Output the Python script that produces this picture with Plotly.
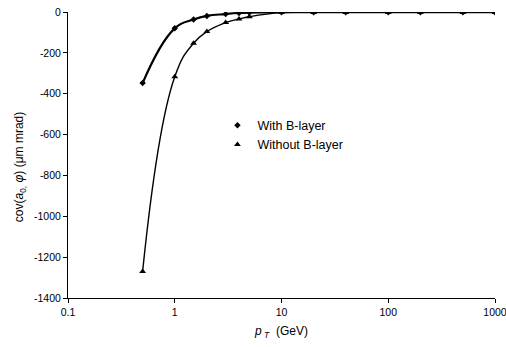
import plotly.graph_objects as go

pt = [0.5, 1, 1.5, 2, 3, 4, 5, 10, 20, 40, 100, 200, 500, 1000]
with_b = [-348, -80, -37, -19, -10, -5, -3, -1, -1, -1, -1, -1, -1, -1]
without_b = [-1270, -317, -153, -96, -52, -34, -23, -3, -2, -2, -2, -2, -2, -2]

xtick_vals = [0.1, 1, 10, 100, 1000]
xtick_text = ["0.1", "1", "10", "100", "1000"]
ytick_vals = [0, -200, -400, -600, -800, -1000, -1200, -1400]
ytick_text = ["0", "-200", "-400", "-600", "-800", "-1000", "-1200", "-1400"]

fig = go.Figure()
fig.add_trace(go.Scatter(x=pt, y=with_b, mode="lines+markers", showlegend=False,
                         line=dict(color="black", width=2.2, shape="spline", smoothing=1.3),
                         marker=dict(symbol="diamond", size=5, color="black")))
fig.add_trace(go.Scatter(x=pt, y=without_b, mode="lines+markers", showlegend=False,
                         line=dict(color="black", width=1.4, shape="spline", smoothing=1.3),
                         marker=dict(symbol="triangle-up", size=6, color="black")))
fig.add_trace(go.Scatter(x=[None], y=[None], mode="markers", name="With B-layer",
                         marker=dict(symbol="diamond", size=5, color="black")))
fig.add_trace(go.Scatter(x=[None], y=[None], mode="markers", name="Without B-layer",
                         marker=dict(symbol="triangle-up", size=6, color="black")))

fig.update_layout(
    width=506, height=347,
    margin=dict(l=68, r=11, t=12, b=49),
    paper_bgcolor="white", plot_bgcolor="white",
    font=dict(family="Liberation Sans, Arial", size=12, color="black"),
    legend=dict(x=0.35, y=0.655, xanchor="left", yanchor="top",
                bgcolor="rgba(0,0,0,0)", itemwidth=30, tracegroupgap=0,
                font=dict(size=12.5)),
    xaxis=dict(type="log", range=[-1, 3], tickvals=xtick_vals, ticktext=xtick_text,
               ticklabeloverflow="allow", automargin=False, tickfont=dict(size=10.5),
               showgrid=False, zeroline=False, showline=True, linecolor="black", linewidth=1,
               ticks="outside", ticklen=4, tickcolor="black",
               title=dict(text="<i>p</i><sub> <i>T</i></sub>  (GeV)", standoff=10,
                          font=dict(size=12))),
    yaxis=dict(range=[-1400, 0], tickvals=ytick_vals, ticktext=ytick_text,
               ticklabeloverflow="allow", automargin=False, tickfont=dict(size=10.5),
               showgrid=False, zeroline=False, showline=True, linecolor="black", linewidth=1,
               ticks="outside", ticklen=4, tickcolor="black"),
    annotations=[dict(text="cov(<i>a</i><sub>0,</sub> <i>φ</i>) (μm mrad)", textangle=-90,
                      xref="paper", yref="paper", x=-0.112, y=0.458,
                      xanchor="center", yanchor="middle", showarrow=False,
                      font=dict(size=12))],
)
fig.write_html("out.html")
